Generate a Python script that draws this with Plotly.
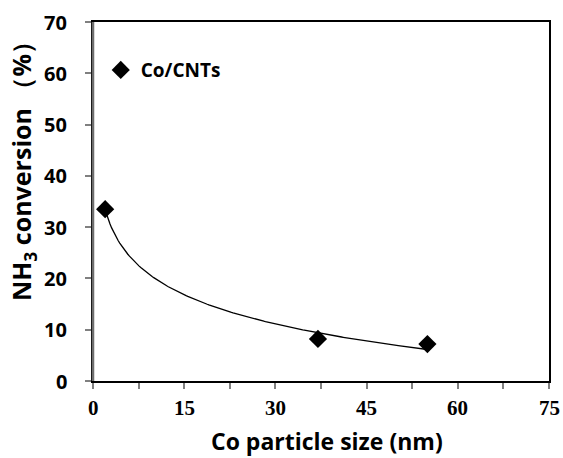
import numpy as np
import plotly.graph_objects as go

particle_size = [2, 37, 55]
nh3_conversion = [33.5, 8.2, 7.2]
series_name = "Co/CNTs"
x_ticks = [0, 15, 30, 45, 60, 75]
y_ticks = [0, 10, 20, 30, 40, 50, 60, 70]

# Logarithmic trendline (least squares y = a + b ln x), as in the original spreadsheet chart
b, a = np.polyfit(np.log(particle_size), nh3_conversion, 1)
xf = np.linspace(min(particle_size), max(particle_size), 200)
yf = a + b * np.log(xf)

fig = go.Figure()
fig.add_trace(go.Scatter(x=xf, y=yf, mode="lines", line=dict(color="black", width=1.3),
                         showlegend=False, hoverinfo="skip"))
fig.add_trace(go.Scatter(x=particle_size, y=nh3_conversion, mode="markers",
                         name="<b>" + series_name + "</b>",
                         marker=dict(symbol="diamond", size=14, color="black")))

sans = "Open Sans"
serif = "Liberation Serif"
fig.update_layout(
    width=563, height=458,
    margin=dict(l=93, r=14, t=22, b=77),
    plot_bgcolor="white", paper_bgcolor="white",
    showlegend=True,
    legend=dict(x=0.017, y=0.866, xanchor="left", yanchor="middle",
                font=dict(family=sans, size=19, color="black"),
                bgcolor="rgba(0,0,0,0)", itemwidth=30),
)
fig.update_xaxes(range=[0, 75], tickmode="array", tickvals=x_ticks, showticklabels=False,
                 ticks="outside", ticklen=6, tickcolor="#808080", tickwidth=1.5,
                 minor=dict(dtick=7.5, tick0=0, ticks="outside", ticklen=6, tickcolor="#808080", tickwidth=1.5),
                 showline=True, linecolor="black", linewidth=2, mirror=True,
                 showgrid=False, zeroline=False)
fig.update_yaxes(range=[0, 70], tickmode="array", tickvals=y_ticks, showticklabels=False,
                 ticks="outside", ticklen=6, tickcolor="#808080", tickwidth=1.5,
                 showline=True, linecolor="black", linewidth=2, mirror=True,
                 showgrid=False, zeroline=False)
fig.add_shape(type="line", xref="paper", yref="paper", x0=0, x1=0, y0=0, y1=1,
              line=dict(color="#6e6e6e", width=2.5))

# tick labels (drawn at the axis scale positions)
for v in x_ticks:
    fig.add_annotation(text="<b>%d</b>" % v, xref="x", yref="paper", x=v, y=-0.075,
                       xanchor="center", yanchor="middle", showarrow=False,
                       font=dict(family=serif, size=21, color="black"))
for v in y_ticks:
    fig.add_annotation(text="<b>%d</b>" % v, xref="paper", yref="y", x=-0.0525, y=v,
                       xanchor="right", yanchor="middle", showarrow=False,
                       font=dict(family=sans, size=20, color="black"))

fig.add_annotation(text="<b>Co particle size (nm)</b>", xref="paper", yref="paper",
                   x=0.514, y=-0.168, xanchor="center", yanchor="middle", showarrow=False,
                   font=dict(family=sans, size=23, color="black"))
fig.add_annotation(text="<b>NH<sub>3</sub> conversion （%）</b>", xref="paper", yref="paper",
                   x=-0.153, y=0.602, xanchor="center", yanchor="middle", showarrow=False,
                   textangle=-90, font=dict(family=sans, size=25, color="black"))

fig.write_html("out.html")
